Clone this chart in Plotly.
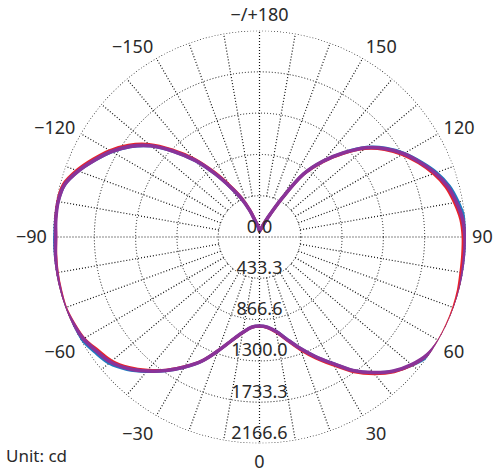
import plotly.graph_objects as go

# ---- data (luminous intensity, cd) ----
angles = list(range(-180, 181, 5))

blue_vals = [60, 90, 122, 174, 290, 436, 592, 802, 1043, 1264, 1484, 1652, 1789, 1905, 2021, 2116,
             2146, 2150, 2150, 2166, 2176, 2175, 2176, 2164, 2152, 2108, 2060, 1966, 1842, 1714,
             1578, 1440, 1272, 1124, 1018, 950, 934, 950, 1006, 1110, 1240, 1382, 1530, 1710,
             1858, 1992, 2092, 2170, 2196, 2190, 2188, 2182, 2172, 2168, 2166, 2160, 2118, 2064,
             1978, 1868, 1756, 1624, 1464, 1252, 1040, 808, 462, 262, 168, 115, 84, 73, 63]

red_vals = [63, 96, 130, 186, 306, 458, 620, 832, 1072, 1293, 1512, 1680, 1815, 1930, 2042, 2132,
            2152, 2148, 2138, 2146, 2155, 2160, 2166, 2150, 2128, 2072, 2024, 1936, 1826, 1706,
            1572, 1436, 1270, 1124, 1020, 952, 936, 954, 1014, 1122, 1258, 1402, 1550, 1727,
            1873, 2000, 2090, 2152, 2172, 2172, 2168, 2160, 2146, 2140, 2136, 2120, 2078, 2026,
            1944, 1842, 1732, 1602, 1444, 1238, 1030, 802, 458, 260, 166, 114, 84, 73, 63]

purple_vals = [63, 94, 126, 178, 294, 441, 598, 808, 1049, 1270, 1490, 1658, 1794, 1910, 2025, 2119,
               2146, 2146, 2140, 2151, 2161, 2167, 2172, 2156, 2135, 2088, 2041, 1951, 1836, 1710,
               1574, 1437, 1270, 1123, 1018, 950, 934, 950, 1007, 1112, 1243, 1385, 1532, 1710,
               1857, 1988, 2083, 2151, 2177, 2182, 2182, 2177, 2167, 2161, 2156, 2140, 2098, 2046,
               1962, 1857, 1747, 1616, 1458, 1249, 1039, 808, 462, 262, 168, 115, 84, 73, 63]

radial_ticks = [0.0, 433.3, 866.6, 1300.0, 1733.3, 2166.6]
radial_labels = ["0.0", "433.3", "866.6", "1300.0", "1733.3", "2166.6"]

angle_grid = list(range(0, 360, 10))
angle_label_map = {0: "0", 30: "30", 60: "60", 90: "90", 120: "120", 150: "150",
                   180: "\u2212/+180", 210: "\u2212150", 240: "\u2212120", 270: "\u221290",
                   300: "\u221260", 330: "\u221230"}
angle_labels = [angle_label_map.get(a, "") for a in angle_grid]

FONT = "Noto Sans"
TXT = "#2a2a2a"
GRID = "#111111"
DOTS = "1px,2px"
rmax = radial_ticks[-1]

fig = go.Figure()

# spoke grid lines (start at first ring, cardinal ones through centre)
gth, gr = [], []
for a in angle_grid:
    start = 0 if a % 90 == 0 else radial_ticks[1]
    gth += [a, a, None]
    gr += [start, rmax, None]
fig.add_trace(go.Scatterpolar(theta=gth, r=gr, mode="lines",
                              line=dict(color=GRID, width=1.2, dash=DOTS),
                              hoverinfo="skip", showlegend=False))

# outer dotted ring
ring_theta = list(range(0, 361, 1))
fig.add_trace(go.Scatterpolar(theta=ring_theta, r=[rmax] * len(ring_theta), mode="lines",
                              line=dict(color=GRID, width=1.2, dash=DOTS),
                              cliponaxis=False, hoverinfo="skip", showlegend=False))

for vals, col, w in [(blue_vals, "#1f7bc0", 3.0), (red_vals, "#e8242c", 3.0),
                     (purple_vals, "#8a3399", 3.6)]:
    fig.add_trace(go.Scatterpolar(theta=angles, r=vals, mode="lines",
                                  line=dict(color=col, width=w, shape="spline"),
                                  cliponaxis=False, showlegend=False))

# radial labels along the 0 direction
fig.add_trace(go.Scatterpolar(theta=[0] * len(radial_ticks), r=radial_ticks, mode="text",
                              text=radial_labels, textposition="top center",
                              textfont=dict(family=FONT, size=18, color=TXT),
                              cliponaxis=False, hoverinfo="skip", showlegend=False))

fig.update_layout(
    width=498, height=470,
    margin=dict(l=0, r=0, t=0, b=0),
    paper_bgcolor="white", plot_bgcolor="white",
    font=dict(family=FONT, size=18, color=TXT),
    showlegend=False,
    polar=dict(
        domain=dict(x=[53 / 498, 466 / 498], y=[1 - 443.5 / 470, 1 - 30.5 / 470]),
        bgcolor="white",
        radialaxis=dict(range=[0, rmax + 0.5], tickvals=radial_ticks[1:], showticklabels=False,
                        ticks="", showline=False, gridcolor=GRID, griddash=DOTS, gridwidth=1.2),
        angularaxis=dict(rotation=-90, direction="counterclockwise",
                         tickmode="array", tickvals=angle_grid, ticktext=angle_labels,
                         showgrid=False, ticks="outside", ticklen=2,
                         tickcolor="rgba(0,0,0,0)", showline=False,
                         tickfont=dict(family=FONT, size=18, color=TXT)),
    ),
    annotations=[dict(text="Unit: cd", xref="paper", yref="paper", x=0.008, y=1 - 455 / 470,
                      xanchor="left", yanchor="middle", showarrow=False,
                      font=dict(family=FONT, size=17, color=TXT))],
)

fig.write_html("out.html", config={"displayModeBar": False},
               post_script="document.body.style.margin='0';")
